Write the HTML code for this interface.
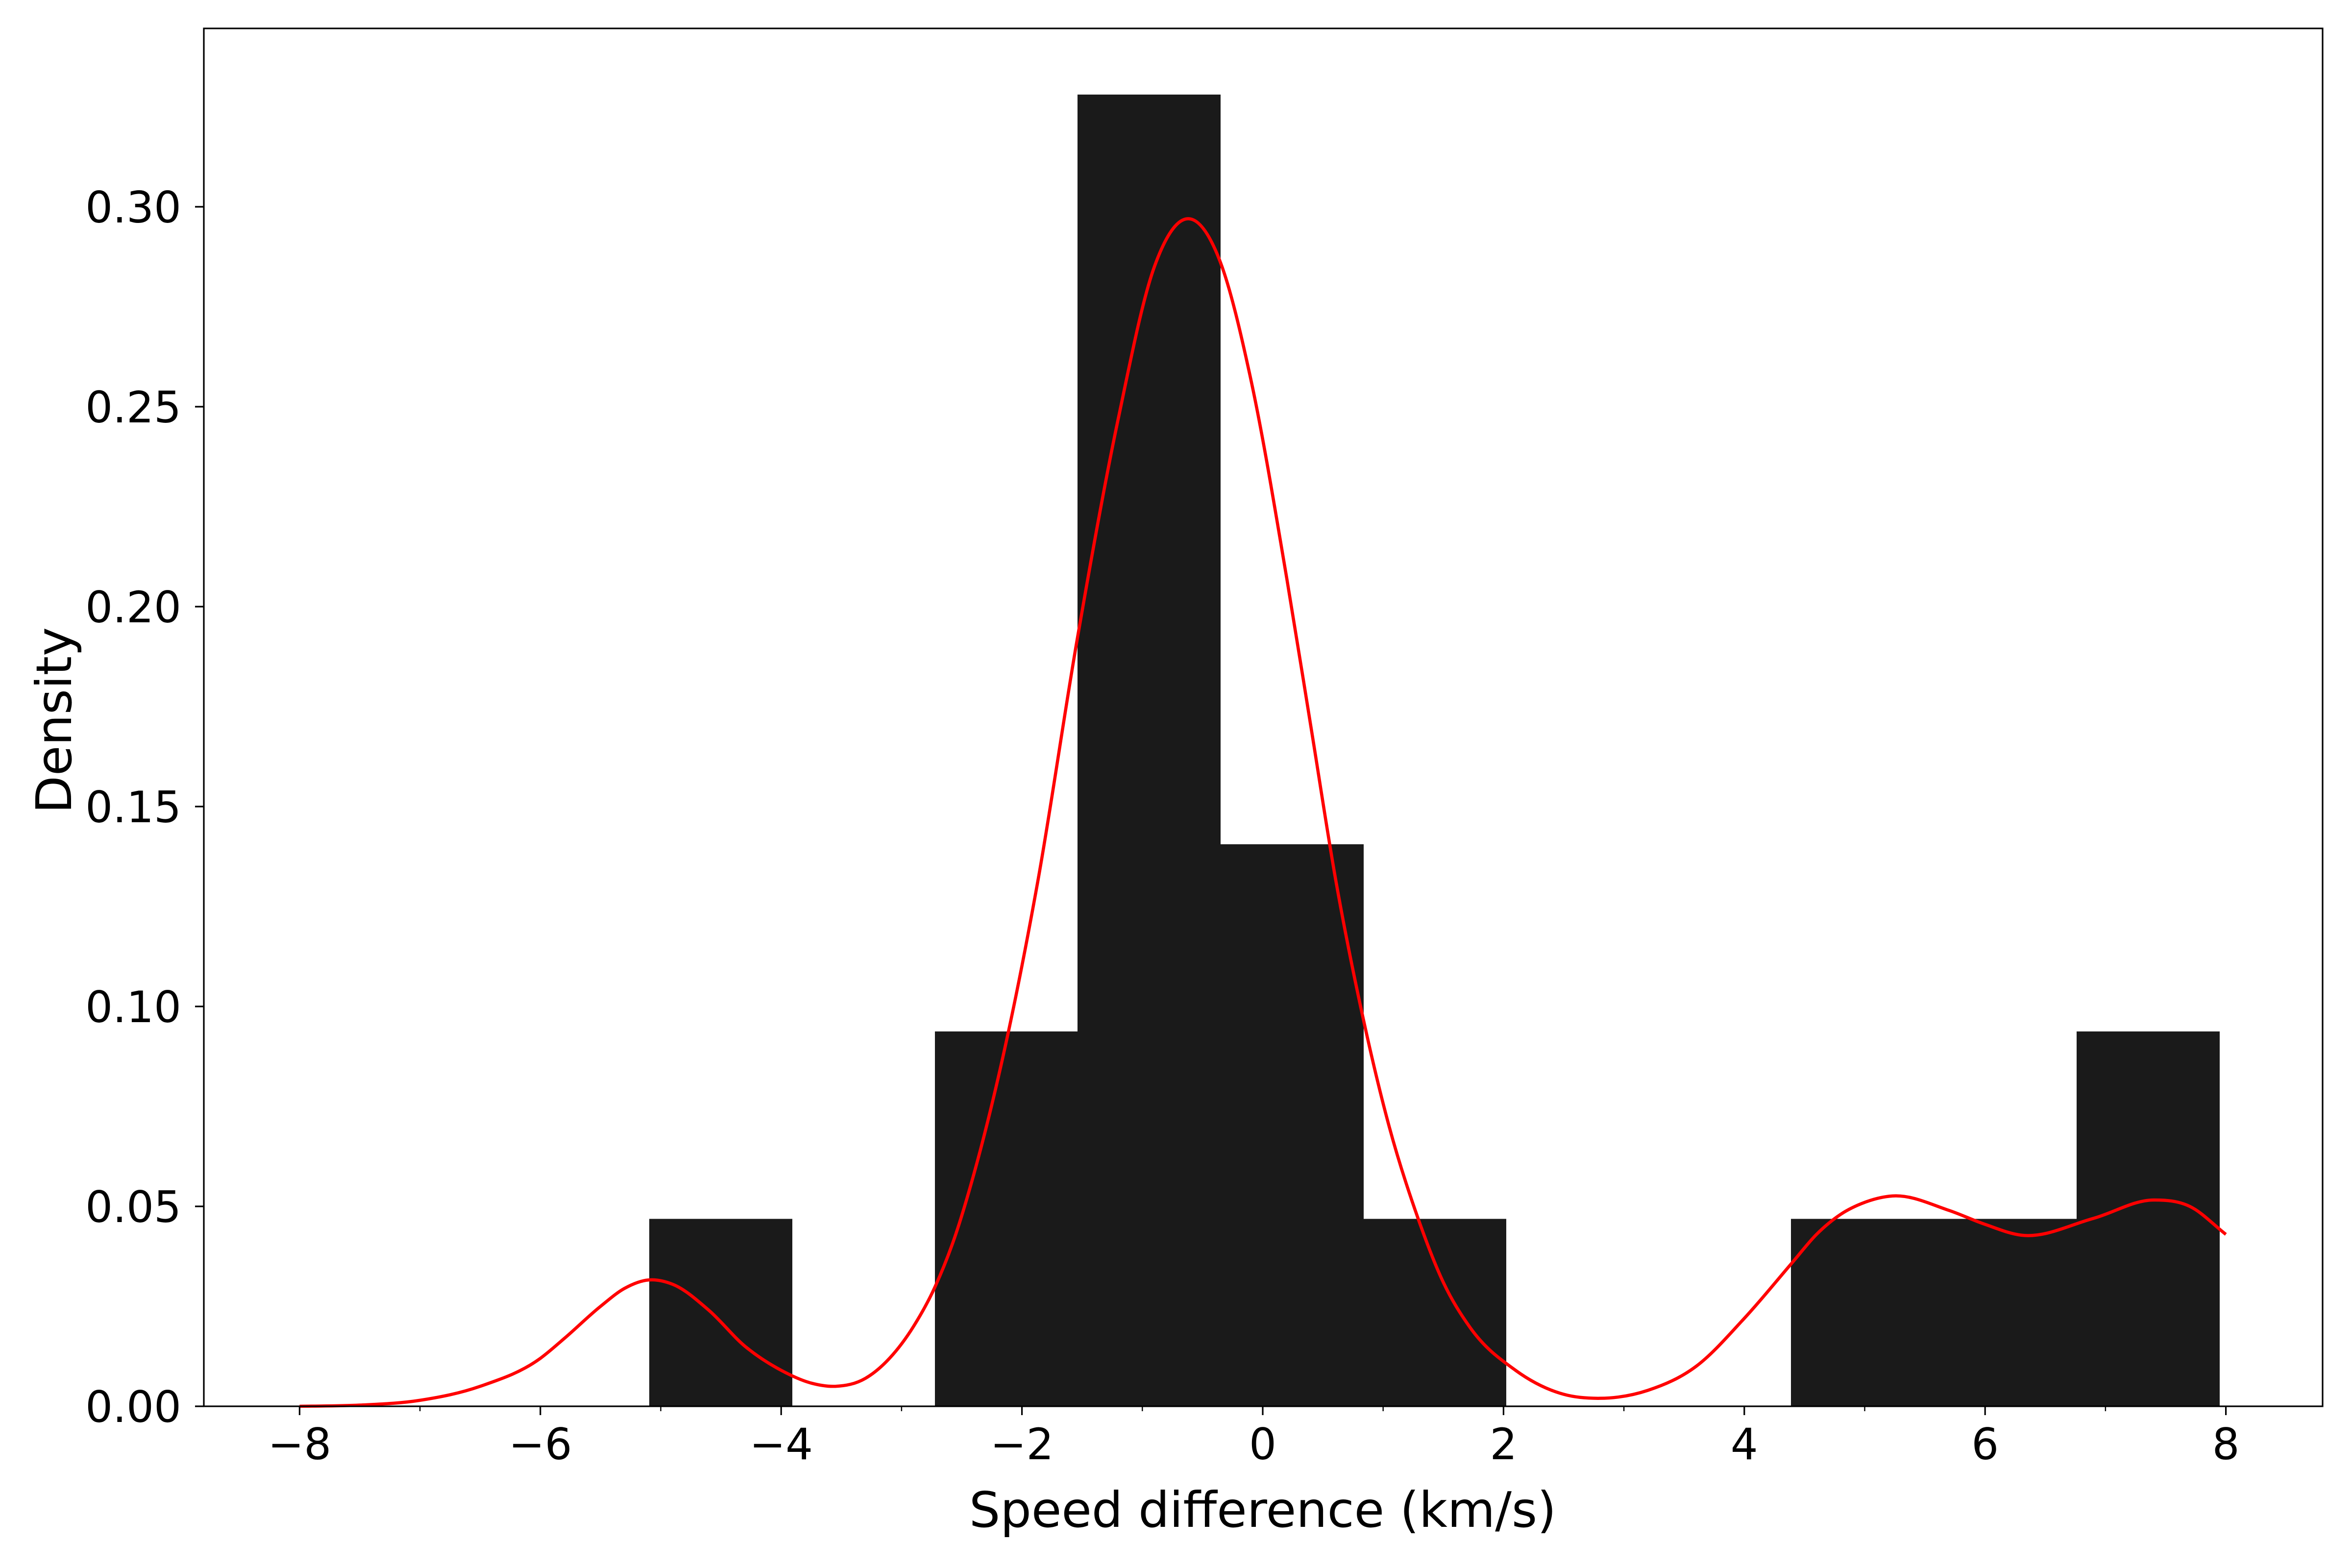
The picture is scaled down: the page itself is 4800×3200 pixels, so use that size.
<!DOCTYPE html>
<html>
<head>
<meta charset="utf-8">
<style>
html,body{margin:0;padding:0;background:#fff;}
svg{display:block;}
text{font-family:"DejaVu Sans","Liberation Sans",sans-serif;fill:#000;}
</style>
</head>
<body>
<svg id="chart" width="4800" height="3200" viewBox="0 0 4800 3200" xmlns="http://www.w3.org/2000/svg">
  <rect x="0" y="0" width="4800" height="3200" fill="#fff"/>
  <g id="bars" shape-rendering="crispEdges"></g>
  <g id="curve"></g>
  <g id="axes"></g>
  <text x="2577" y="3116" font-size="100" text-anchor="middle">Speed difference (km/s)</text>
  <text transform="translate(145,1470) rotate(-90)" font-size="100" text-anchor="middle">Density</text>
</svg>
<script>
// ---- data ----
const binStart = -5.095;
const binWidth = 1.1855;
const binCounts = [1, 0, 2, 7, 3, 1, 0, 0, 1, 1, 2];
const sampleSize = 18;
const kdeX = [-8, -7.5, -7, -6.5, -6, -5.8, -5.5, -5.3, -5.1, -4.9, -4.6, -4.3, -4.0, -3.75, -3.55, -3.3, -3.1, -2.9, -2.72, -2.55, -2.4, -2.11, -1.87, -1.54, -1.2, -0.9, -0.61, -0.35, -0.1, 0.2, 0.4, 0.61, 0.83, 1.05, 1.29, 1.5, 1.72, 2.1, 2.5, 2.8, 3.2, 3.6, 4.0, 4.4, 4.6, 4.8, 5.0, 5.23, 5.7, 6.0, 6.3, 6.9, 7.4, 7.7, 8];
const kdeY = [0, 0.0003, 0.0015, 0.005, 0.012, 0.017, 0.025, 0.0295, 0.0316, 0.0305, 0.024, 0.015, 0.009, 0.0058, 0.005, 0.007, 0.012, 0.020, 0.030, 0.043, 0.058, 0.094, 0.131, 0.192, 0.247, 0.285, 0.297, 0.286, 0.257, 0.207, 0.17, 0.131, 0.0976, 0.07, 0.047, 0.031, 0.0198, 0.009, 0.003, 0.002, 0.004, 0.010, 0.022, 0.036, 0.043, 0.048, 0.051, 0.0526, 0.049, 0.0455, 0.0428, 0.047, 0.0516, 0.050, 0.043];
const xTicks = [-8, -6, -4, -2, 0, 2, 4, 6, 8];
const xTickLabels = ["\u22128", "\u22126", "\u22124", "\u22122", "0", "2", "4", "6", "8"];
const xMinorTicks = [-7, -5, -3, -1, 1, 3, 5, 7];
const yTicks = [0, 0.05, 0.10, 0.15, 0.20, 0.25, 0.30];
const yTickLabels = ["0.00", "0.05", "0.10", "0.15", "0.20", "0.25", "0.30"];

// ---- axes geometry ----
const L = 416, R = 4740, T = 58, B = 2870;
const X0 = 2577, XS = 245.7;
const YS = 8160;
function sx(v){ return X0 + v * XS; }
function sy(v){ return B - v * YS; }
const NS = "http://www.w3.org/2000/svg";
function mk(tag, attrs){ const e = document.createElementNS(NS, tag); for (const k in attrs) e.setAttribute(k, attrs[k]); return e; }

// bars
const barsG = document.getElementById('bars');
binCounts.forEach((c, i) => {
  const h = c / (sampleSize * binWidth);
  if (h <= 0) return;
  const x1 = Math.round(sx(binStart + i * binWidth)), x2 = Math.round(sx(binStart + (i + 1) * binWidth));
  const r = mk('rect', {x: x1, y: sy(h), width: x2 - x1 + 1, height: B - sy(h), fill: '#1a1a1a'});
  
  
  barsG.appendChild(r);
});

// KDE curve: cubic Hermite with non-uniform finite-difference slopes
const n = kdeX.length;
const m = [];
for (let i = 0; i < n; i++) {
  if (i === 0) m.push((kdeY[1] - kdeY[0]) / (kdeX[1] - kdeX[0]));
  else if (i === n - 1) m.push((kdeY[n-1] - kdeY[n-2]) / (kdeX[n-1] - kdeX[n-2]));
  else {
    const h0 = kdeX[i] - kdeX[i-1], h1 = kdeX[i+1] - kdeX[i];
    const d0 = (kdeY[i] - kdeY[i-1]) / h0, d1 = (kdeY[i+1] - kdeY[i]) / h1;
    m.push((d0 * h1 + d1 * h0) / (h0 + h1));
  }
}
let d = 'M' + sx(kdeX[0]) + ',' + sy(kdeY[0]);
for (let i = 0; i < n - 1; i++) {
  const h = kdeX[i+1] - kdeX[i];
  const c1x = kdeX[i] + h / 3, c1y = kdeY[i] + m[i] * h / 3;
  const c2x = kdeX[i+1] - h / 3, c2y = kdeY[i+1] - m[i+1] * h / 3;
  d += ' C' + sx(c1x) + ',' + sy(c1y) + ' ' + sx(c2x) + ',' + sy(c2y) + ' ' + sx(kdeX[i+1]) + ',' + sy(kdeY[i+1]);
}
const path = mk('path', {d: d, fill: 'none', stroke: '#ff0000', 'stroke-width': 6.5, 'stroke-linejoin': 'round'});


document.getElementById('curve').appendChild(path);

// axes frame and ticks
const ax = document.getElementById('axes');
const frame = mk('rect', {x: L, y: T, width: R - L, height: B - T, fill: 'none', stroke: '#000', 'stroke-width': 3.2});


ax.appendChild(frame);

xTicks.forEach((v, i) => {
  const t = mk('line', {x1: sx(v), x2: sx(v), y1: B, y2: B + 18, stroke: '#000', 'stroke-width': 3.2});
  
  
  ax.appendChild(t);
  const lb = mk('text', {x: sx(v), y: 2978, 'font-size': 88, 'text-anchor': 'middle'});
  lb.textContent = xTickLabels[i];
  
  
  ax.appendChild(lb);
});
xMinorTicks.forEach(v => {
  const t = mk('line', {x1: sx(v), x2: sx(v), y1: B, y2: B + 10, stroke: '#000', 'stroke-width': 2.4});
  
  
  ax.appendChild(t);
});
yTicks.forEach((v, i) => {
  const t = mk('line', {x1: L - 18, x2: L, y1: sy(v), y2: sy(v), stroke: '#000', 'stroke-width': 3.2});
  
  
  ax.appendChild(t);
  const lb = mk('text', {x: 370, y: sy(v) + 32, 'font-size': 88, 'text-anchor': 'end'});
  lb.textContent = yTickLabels[i];
  
  
  ax.appendChild(lb);
});
</script>
</body>
</html>
